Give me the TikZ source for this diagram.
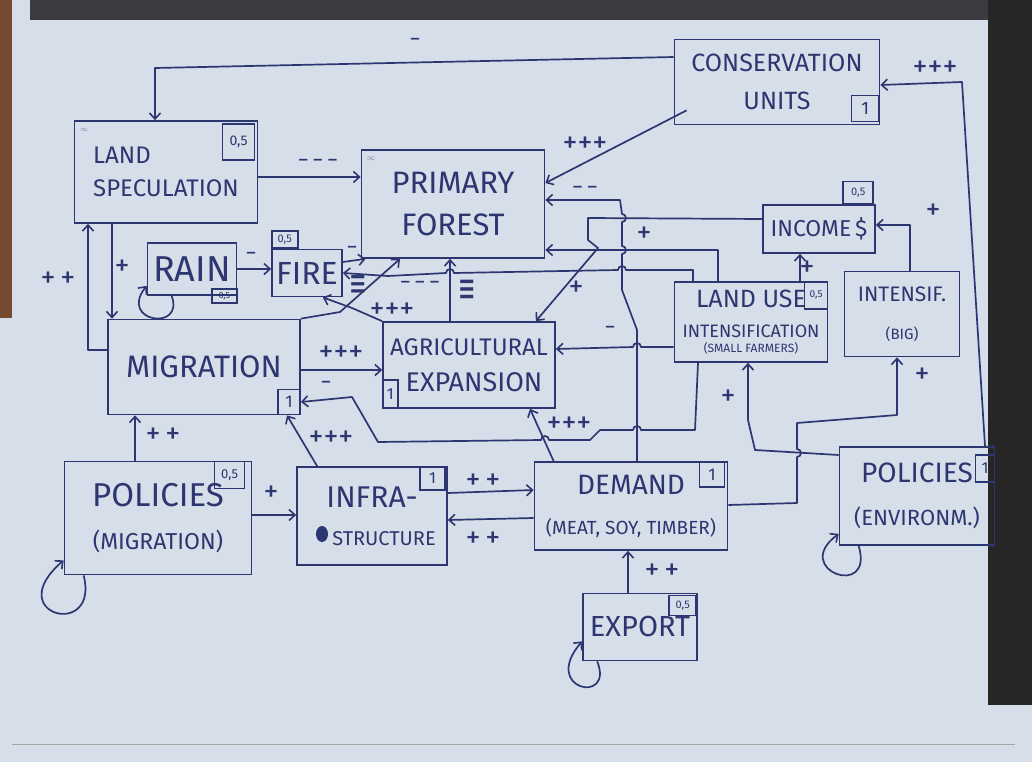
\documentclass[tikz,border=0pt]{standalone}
\usepackage{fontspec}
\usepackage{graphicx}
\setmainfont{Fira Sans}
\newfontfamily\djv{DejaVu Sans}
\usetikzlibrary{arrows.meta}
\definecolor{pen}{RGB}{44,54,112}
\definecolor{paper}{RGB}{214,223,233}
\definecolor{edge}{RGB}{58,60,66}
\definecolor{wood}{RGB}{118,74,48}
\newcommand\fz[2]{\fontsize{#1}{#2}\selectfont}
\newcommand\mi{\char"2212}
\begin{document}
\begin{tikzpicture}[x=1pt,y=-1pt,
  every node/.style={text=pen},
  box/.style={draw=pen, line width=1.7pt, inner sep=0pt, align=center},
  val/.style={draw=pen, line width=1.4pt, inner sep=0pt},
  arr/.style={draw=pen, line width=1.7pt, line join=round, -{Straight Barb[length=6pt,width=11pt,line width=1.6pt]}},
  lab/.style={font=\fz{30}{30}, inner sep=0pt},
  dlab/.style={font=\fz{22}{22}, inner sep=0pt},
  sdash/.style={font=\djv\fz{26}{26}, inner sep=0pt}]
% paper and photo margins
\fill[paper] (0,0) rectangle (1032,762);
\useasboundingbox (0,0) rectangle (1032,762);
\fill[edge] (30,0) rectangle (990,20);
\fill[wood] (0,0) rectangle (12,318);
\fill[black!85] (988,0) rectangle (1032,705);
\draw[gray!70, line width=1pt] (12,744) -- (1015,744);

% ---------- nodes ----------
\node[box, minimum width=205pt, minimum height=85pt, font=\fz{25}{38}] (cu) at (777,82) {CONSERVATION\\UNITS\hspace{40pt}};
\node[val, minimum width=27pt, minimum height=26pt, anchor=south east, font=\fz{18}{18}] (cuv) at ([xshift=-1pt,yshift=3pt]cu.south east) {1};

\node[box, minimum width=183pt, minimum height=102pt, align=left, font=\fz{24}{33}] (ls) at (166,172) {LAND\\SPECULATION};
\node[val, minimum width=32pt, minimum height=36pt, anchor=north east, font=\fz{14}{14}] (lsv) at ([xshift=-3pt,yshift=-3pt]ls.north east) {0,5};
\node[font=\fz{7}{7}, opacity=.6, inner sep=0pt] (lsinf) at (84,130) {$\infty$};

\node[box, minimum width=183pt, minimum height=108pt, font=\fz{31}{42}] (pf) at (453,204) {PRIMARY\\FOREST};
\node[font=\fz{8}{8}, opacity=.6, inner sep=0pt] (pfinf) at (371,159) {$\infty$};

\node[box, minimum width=89pt, minimum height=52pt, font=\fz{36}{36}] (rain) at (192,269) {RAIN};
\node[val, minimum width=25pt, minimum height=14pt, font=\fz{9}{9}] (rainv) at ([xshift=-13pt]rain.south east) {0,5};

\node[box, minimum width=70pt, minimum height=47pt, font=\fz{32}{32}] (fire) at (307,273) {FIRE};
\node[val, minimum width=26pt, minimum height=17pt, anchor=south west, font=\fz{11}{11}] (firev) at (fire.north west) {0,5};

\node[box, minimum width=112pt, minimum height=48pt, font=\fz{23}{23}] (inc) at (819,229) {INCOME\,\$};
\node[val, minimum width=30pt, minimum height=22pt, anchor=south east, font=\fz{11}{11}] (incv) at ([xshift=-2pt]inc.north east) {0,5};

\node[box, minimum width=153pt, minimum height=80pt, font=\fz{25}{30}] (lu) at (751,322) {LAND USE\hspace{18pt}\\\fz{18}{30}INTENSIFICATION\\[-15pt]\fz{12}{30}(SMALL FARMERS)\hspace{16pt}};
\node[val, minimum width=23pt, minimum height=27pt, anchor=north east, font=\fz{10}{10}] (luv) at (lu.north east) {0,5};

\node[box, minimum width=115pt, minimum height=85pt, font=\fz{21}{38}] (big) at (902,314) {INTENSIF.\\\fz{15}{38}(BIG)\hspace{20pt}};

\node[box, minimum width=192pt, minimum height=95pt, font=\fz{31}{31}] (mig) at (204,367) {MIGRATION};
\node[val, minimum width=22pt, minimum height=25pt, anchor=south east, font=\fz{17}{17}] (migv) at (mig.south east) {1};

\node[box, minimum width=172pt, minimum height=86pt, font=\fz{24}{36}] (agx) at (469,365) {AGRICULTURAL\\\fz{27}{36}\hspace{10pt}EXPANSION};
\node[val, minimum width=15pt, minimum height=28pt, anchor=south west, font=\fz{16}{16}] (agxv) at (agx.south west) {1};

\node[box, minimum width=187pt, minimum height=113pt, font=\fz{33}{43}] (pm) at (158,518) {POLICIES\\\fz{23}{43}(MIGRATION)};
\node[val, minimum width=30pt, minimum height=27pt, anchor=north east, font=\fz{13}{13}] (pmv) at ([xshift=-7pt]pm.north east) {0,5};

\node[box, minimum width=150pt, minimum height=98pt, font=\fz{30}{38}] (inf) at (372,516) {INFRA-\hspace{6pt}\\\fz{20}{38}\hspace{24pt}STRUCTURE};
\node[val, minimum width=25pt, minimum height=23pt, anchor=north east, font=\fz{16}{16}] (infv) at ([xshift=-2pt]inf.north east) {1};
\fill[pen] (322,534) ellipse [x radius=6pt, y radius=8pt];

\node[box, minimum width=193pt, minimum height=88pt, font=\fz{28}{40}] (dem) at (631,506) {DEMAND\hspace{55pt}\\\fz{19}{40}(MEAT, SOY, TIMBER)};
\node[val, minimum width=25pt, minimum height=25pt, anchor=north east, font=\fz{17}{17}] (demv) at ([xshift=-3pt]dem.north east) {1};

\node[box, minimum width=155pt, minimum height=98pt, font=\fz{28}{43}] (pe) at (917,496) {POLICIES\\\fz{22}{43}(ENVIRONM.)};
\node[val, minimum width=19pt, minimum height=27pt, anchor=north east, font=\fz{16}{16}] (pev) at ([yshift=-8pt]pe.north east) {1};

\node[box, minimum width=114pt, minimum height=67pt, font=\fz{29}{29}] (exp) at (640,627) {EXPORT};
\node[val, minimum width=27pt, minimum height=20pt, anchor=north east, font=\fz{11}{11}] (expv) at ([xshift=-1pt,yshift=-2pt]exp.north east) {0,5};

% ---------- connectors ----------
% conservation units
\draw[arr] (cu.west |- 0,57) -- (155,68) -- (ls.north -| 155,0);
\node[dlab] (l1) at (415,42) {\mi};
\draw[arr] ([xshift=13pt,yshift=15pt]cu.south west) -- (pf.east |- 0,183);
\node[lab] (l2) at (585,145) {+++};
% land speculation
\draw[arr] (ls.east |- 0,177) -- (pf.west |- 0,177);
\node[dlab] (l3) at (318,163) {\mi\,\mi\,\mi};
\draw[arr] (ls.south -| 112,0) -- (mig.north -| 112,0);
\node[lab] (l4) at (122,268) {+};
\draw[arr] (mig.west |- 0,350) -- (88,350) -- (ls.south -| 88,0);
\node[lab] (l5) at (58,280) {+\,+};
% rain, fire
\draw[arr] (rain.east) -- (fire.west |- rain.east);
\node[dlab] (l6) at (251,256) {\mi};
\draw[arr] ([xshift=25pt]rain.south west) .. controls (185,332) and (118,322) .. ([yshift=10pt]rain.south west);
\draw[arr] (fire.east |- 0,262) -- ([xshift=5pt]pf.south west);
\node[dlab] (l7) at (352,250) {\mi};
% migration -> primary forest
\draw[arr] (mig.north east) -- (340,312) -- (pf.south -| 400,0);
\node[sdash] (l8) at (358,286) {\scalebox{0.8}[1.5]{≡}};
% land use -> fire
\draw[arr] (lu.north -| 693,0) -- (693,270) -- (626,270) arc[start angle=0,end angle=180,radius=4pt]
  -- (454,273) arc[start angle=0,end angle=180,radius=4pt] -- (388,276) -- (fire.east |- 0,273);
\node[dlab] (l9) at (420,285) {\mi\,\mi\,\mi};
% agricultural expansion -> primary forest
\draw[arr] (agx.north -| 450,0) -- (pf.south -| 450,0);
\node[sdash] (l10) at (467,291) {\scalebox{0.8}[1.6]{≡}};
% agricultural expansion -> fire
\draw[arr] (agx.north west) -- (352,308) -- ([xshift=-20pt]fire.south east);
\node[lab] (l11) at (392,311) {+++};
% demand -> primary forest
\draw[arr] (dem.north -| 637,0) -- (637,330) -- (622,290) -- (622,254) arc[start angle=-90,end angle=90,radius=4pt]
  -- (622,222) arc[start angle=-90,end angle=90,radius=4pt] -- (620,200) -- (pf.east |- 0,200);
\node[dlab] (l12) at (585,190) {\mi\,\mi};
% land use -> primary forest
\draw[arr] (lu.north -| 718,0) -- (718,250) -- (pf.east |- 0,250);
\node[lab] (l13) at (644,235) {+};
% income -> agricultural expansion
\draw[arr] (inc.west |- 0,219) -- (588,218) -- (588,240) -- (598,248) -- ([xshift=-20pt]agx.north east);
\node[lab] (l14) at (576,289) {+};
% land use -> agricultural expansion
\draw[arr] (lu.west |- 0,347) -- (641,347) arc[start angle=0,end angle=180,radius=4pt] -- (agx.east |- 0,349);
\node[dlab] (l15) at (610,330) {\mi};
% migration -> agricultural expansion
\draw[arr] (mig.east |- 0,370) -- (agx.west |- 0,370);
\node[lab] (l16) at (341,354) {+++};
% land use -> migration
\draw[arr] (lu.south -| 698,0) -- (695,430) -- (641,430) arc[start angle=0,end angle=180,radius=4pt]
  -- (600,430) -- (590,440) -- (549,440) arc[start angle=0,end angle=180,radius=4pt] -- (378,442) -- (352,397) -- (mig.east |- 0,402);
\node[dlab] (l17) at (326,385) {\mi};
% demand -> agricultural expansion
\draw[arr] ([xshift=20pt]dem.north west) -- (agx.south -| 530,0);
\node[lab] (l18) at (569,425) {+++};
% infrastructure -> migration
\draw[arr] ([xshift=21pt]inf.north west) -- (mig.south -| 287,0);
\node[lab] (l19) at (331,439) {+++};
% policies (migration)
\draw[arr] (pm.north -| 135,0) -- (mig.south -| 135,0);
\node[lab] (l20) at (163,436) {+\,+};
\draw[arr] (pm.east |- 0,515) -- (inf.west |- 0,515);
\node[lab] (l21) at (271,494) {+};
\draw[arr] ([xshift=20pt]pm.south west) .. controls (100,640) and (0,615) .. ([yshift=15pt]pm.south west);
% infrastructure <-> demand
\draw[arr] (inf.east |- 0,493) -- (dem.west |- 0,490);
\node[lab] (l22) at (483,482) {+\,+};
\draw[arr] (dem.west |- 0,518) -- (inf.east |- 0,520);
\node[lab] (l23) at (483,540) {+\,+};
% export
\draw[arr] (exp.north -| 628,0) -- (dem.south -| 628,0);
\node[lab] (l24) at (662,572) {+\,+};
\draw[arr] ([xshift=15pt]exp.south west) .. controls (615,705) and (540,690) .. ([yshift=20pt]exp.south west);
% demand -> intensification (big)
\draw[arr] (dem.east |- 0,505) -- (797,503) -- (797,457) arc[start angle=-90,end angle=90,radius=4pt]
  -- (797,423) -- (897,415) -- (big.south -| 897,0);
\node[lab] (l25) at (922,376) {+};
% policies (environment)
\draw[arr] (pe.west |- 0,455) -- (755,450) -- (748,420) -- (lu.south -| 748,0);
\node[lab] (l26) at (728,398) {+};
\draw[arr] (pe.north -| 985,0) -- (962,82) -- (cu.east |- 0,85);
\node[lab] (l27) at (935,69) {+++};
\draw[arr] ([xshift=20pt]pe.south west) .. controls (875,600) and (790,570) .. ([yshift=12pt]pe.south west);
% income inputs
\draw[arr] (lu.north -| 800,0) -- (inc.south -| 800,0);
\node[lab] (l28) at (807,269) {+};
\draw[arr] (big.north -| 910,0) -- (910,225) -- (inc.east |- 0,225);
\node[lab] (l29) at (933,212) {+};
\end{tikzpicture}
\end{document}
